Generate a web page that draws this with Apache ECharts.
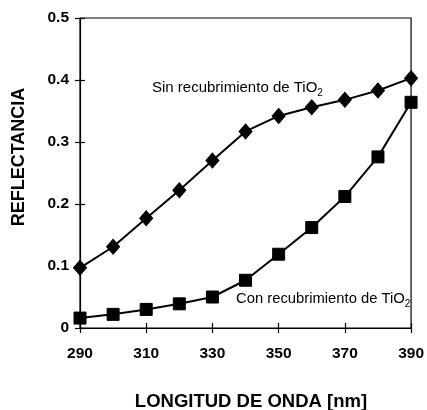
<!DOCTYPE html>
<html>
<head>
<meta charset="utf-8">
<script src="https://cdn.jsdelivr.net/npm/echarts@6/dist/echarts.min.js"></script>
<style>html,body{margin:0;padding:0;background:#fff}#c{width:427px;height:410px}</style>
</head>
<body>
<div id="c"></div>
<script>
const wavelengths = [290, 300, 310, 320, 330, 340, 350, 360, 370, 380, 390];
const sinTiO2 = [0.097, 0.131, 0.177, 0.222, 0.270, 0.317, 0.342, 0.356, 0.368, 0.383, 0.403];
const conTiO2 = [0.016, 0.022, 0.030, 0.039, 0.050, 0.077, 0.119, 0.162, 0.212, 0.276, 0.364];
const xTicks = [290, 310, 330, 350, 370, 390];
const yTicks = [0, 0.1, 0.2, 0.3, 0.4, 0.5];

const chart = echarts.init(document.getElementById('c'), null, {renderer: 'canvas'});
const pair = (xs, ys) => xs.map((x, i) => [x, ys[i]]);
const FONT = '"Liberation Sans", Arial, sans-serif';

const xBase = {type: 'value', min: 290, max: 390, interval: 20, gridIndex: 0, splitLine: {show: false}};
const yBase = {type: 'value', min: 0, max: 0.5, interval: 0.1, gridIndex: 0, splitLine: {show: false}};

chart.setOption({
  animation: false,
  backgroundColor: '#fff',
  grid: {left: 80, right: 11, top: 18, bottom: 82, show: true, borderColor: '#000', borderWidth: 1.2},
  xAxis: [
    Object.assign({}, xBase, {
      position: 'bottom',
      axisLine: {lineStyle: {color: '#000', width: 1.2}},
      axisTick: {show: true, inside: false, length: 5, lineStyle: {color: '#000', width: 1.2}},
      axisLabel: {color: '#000', fontFamily: FONT, fontWeight: 'bold', fontSize: 15.5, margin: 18,
        formatter: v => xTicks.includes(v) ? String(v) : ''}
    }),
    Object.assign({}, xBase, {
      position: 'bottom',
      axisLine: {show: false},
      axisTick: {show: true, inside: true, length: 5, lineStyle: {color: '#000', width: 1.2}},
      axisLabel: {show: false}
    })
  ],
  yAxis: [
    Object.assign({}, yBase, {
      position: 'left',
      axisLine: {show: true, lineStyle: {color: '#000', width: 1.2}},
      axisTick: {show: true, inside: false, length: 5, lineStyle: {color: '#000', width: 1.2}},
      axisLabel: {color: '#000', fontFamily: FONT, fontWeight: 'bold', fontSize: 15.5, margin: 11,
        formatter: v => { const t = yTicks.find(k => Math.abs(k - v) < 1e-9); return t === undefined ? '' : (t === 0 ? '0' : t.toFixed(1)); }}
    }),
    Object.assign({}, yBase, {
      position: 'left',
      axisLine: {show: false},
      axisTick: {show: true, inside: true, length: 5, lineStyle: {color: '#000', width: 1.2}},
      axisLabel: {show: false}
    })
  ],
  series: [
    {
      type: 'line', name: 'Sin recubrimiento de TiO2', data: pair(wavelengths, sinTiO2),
      symbol: 'diamond', symbolSize: [13, 15], showAllSymbol: true,
      lineStyle: {color: '#000', width: 2}, itemStyle: {color: '#000', borderColor: '#000'},
      clip: false, z: 3
    },
    {
      type: 'line', name: 'Con recubrimiento de TiO2', data: pair(wavelengths, conTiO2),
      symbol: 'rect', symbolSize: 12, showAllSymbol: true,
      lineStyle: {color: '#000', width: 2}, itemStyle: {color: '#000', borderColor: '#000'},
      clip: false, z: 3
    }
  ],
  graphic: [
    {
      type: 'text', x: 152, y: 77,
      style: {
        text: '{a|Sin recubrimiento de TiO}{s|2}',
        rich: {
          a: {fontFamily: FONT, fontSize: 15, fill: '#000', lineHeight: 18, verticalAlign: 'bottom'},
          s: {fontFamily: FONT, fontSize: 10, fill: '#000', lineHeight: 18, verticalAlign: 'bottom', padding: [0, 0, -3, 0]}
        }
      }
    },
    {
      type: 'text', x: 236, y: 288,
      style: {
        text: '{a|Con recubrimiento de TiO}{s|2}',
        rich: {
          a: {fontFamily: FONT, fontSize: 14.8, fill: '#000', lineHeight: 18, verticalAlign: 'bottom'},
          s: {fontFamily: FONT, fontSize: 10, fill: '#000', lineHeight: 18, verticalAlign: 'bottom', padding: [0, 0, -3, 0]}
        }
      }
    },
    {
      type: 'text', x: 19, y: 157, rotation: Math.PI / 2,
      style: {text: 'REFLECTANCIA', fontFamily: FONT, fontWeight: 'bold', fontSize: 18, fill: '#000',
        align: 'center', verticalAlign: 'middle'}
    },
    {
      type: 'text', x: 251, y: 402,
      style: {text: 'LONGITUD DE ONDA [nm]', fontFamily: FONT, fontWeight: 'bold', fontSize: 18.5, fill: '#000',
        align: 'center', verticalAlign: 'middle'}
    }
  ]
});
</script>
</body>
</html>
